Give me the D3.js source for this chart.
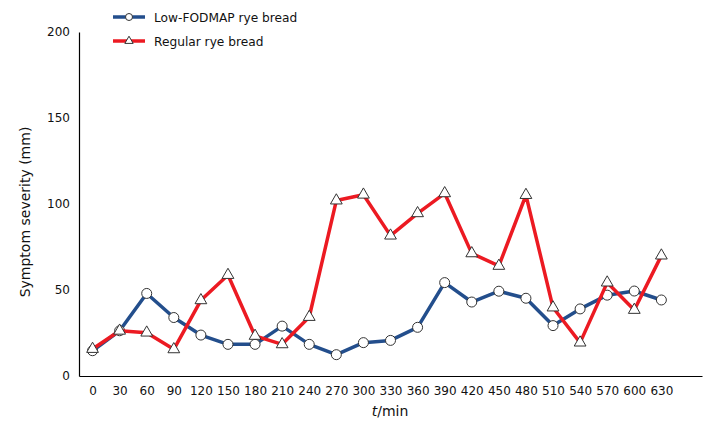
<!DOCTYPE html>
<html>
<head>
<meta charset="utf-8">
<script src="https://cdn.jsdelivr.net/npm/d3@7"></script>
<style>
  html, body { margin: 0; padding: 0; background: #fff; }
  svg { display: block; }
  text { font-family: "DejaVu Sans", Verdana, sans-serif; fill: #111; }
</style>
</head>
<body>
<svg id="chart" width="725" height="433"></svg>
<script>
const times = [0, 30, 60, 90, 120, 150, 180, 210, 240, 270, 300, 330, 360, 390, 420, 450, 480, 510, 540, 570, 600, 630];
const lowFodmap = [14.7, 26.3, 48, 34, 23.8, 18.4, 18.4, 29, 18.4, 12.4, 19.4, 20.7, 28.3, 54.3, 43, 49.3, 45.2, 29.3, 39, 47, 49.4, 44.2];
const regular = [15.7, 26.3, 25.2, 15.5, 44, 58.7, 23.3, 18.4, 34.3, 102, 105.4, 81.6, 94.6, 106.2, 71.3, 64, 105.2, 39.8, 19.4, 54.3, 38.4, 70];
const yTicks = [0, 50, 100, 150, 200];
const seriesNames = ["Low-FODMAP rye bread", "Regular rye bread"];
const seriesColors = ["#234e8c", "#ec1a22"];

const svg = d3.select("#chart");
const x = d3.scaleLinear().domain([-15, 675]).range([79, 702]);
const y = d3.scaleLinear().domain([0, 200]).range([376, 32]);

// axes
const xAxis = svg.append("g").attr("transform", "translate(0,376)")
  .call(d3.axisBottom(x).tickValues(times).tickSize(0).tickPadding(10).tickFormat(d3.format("d")));
xAxis.select(".domain").attr("stroke", "#000").attr("stroke-width", 1.2);
xAxis.selectAll("text").attr("font-size", 12).attr("font-family", "DejaVu Sans").attr("fill", "#111");

const yAxis = svg.append("g").attr("transform", "translate(79,0)")
  .call(d3.axisLeft(y).tickValues(yTicks).tickSize(0).tickPadding(9));
yAxis.select(".domain").attr("stroke", "#000").attr("stroke-width", 1.2);
yAxis.selectAll("text").attr("font-size", 12).attr("font-family", "DejaVu Sans").attr("fill", "#111");

// axis titles
svg.append("text")
  .attr("transform", "translate(30,212) rotate(-90)")
  .attr("text-anchor", "middle")
  .attr("font-size", 14)
  .text("Symptom severity (mm)");

const xt = svg.append("text")
  .attr("x", 390).attr("y", 416)
  .attr("text-anchor", "middle")
  .attr("font-size", 14);
xt.append("tspan").attr("font-style", "italic").text("t");
xt.append("tspan").text("/min");

// lines
const line = d3.line().x((d, i) => x(times[i])).y(d => y(d));
const tri = d3.symbol().type(d3.symbolTriangle).size(60);

function drawSeries(vals, color, marker) {
  svg.append("path").datum(vals)
    .attr("fill", "none").attr("stroke", color)
    .attr("stroke-width", 3.5).attr("stroke-linejoin", "round")
    .attr("d", line);
  const g = svg.append("g");
  if (marker === "circle") {
    g.selectAll("circle").data(vals).join("circle")
      .attr("cx", (d, i) => x(times[i])).attr("cy", d => y(d)).attr("r", 5)
      .attr("fill", "#fff").attr("stroke", "#333").attr("stroke-width", 1);
  } else {
    g.selectAll("path").data(vals).join("path")
      .attr("d", tri)
      .attr("transform", (d, i) => `translate(${x(times[i])},${y(d)})`)
      .attr("fill", "#fff").attr("stroke", "#333").attr("stroke-width", 1);
  }
}
drawSeries(lowFodmap, seriesColors[0], "circle");
drawSeries(regular, seriesColors[1], "triangle");

// legend
const legend = svg.append("g");
seriesNames.forEach((name, i) => {
  const ly = 17 + i * 24;
  legend.append("line").attr("x1", 113).attr("x2", 145).attr("y1", ly).attr("y2", ly)
    .attr("stroke", seriesColors[i]).attr("stroke-width", 3.5);
  if (i === 0) {
    legend.append("circle").attr("cx", 129).attr("cy", ly).attr("r", 3.5)
      .attr("fill", "#fff").attr("stroke", "#333").attr("stroke-width", 1);
  } else {
    legend.append("path").attr("d", d3.symbol().type(d3.symbolTriangle).size(30))
      .attr("transform", `translate(129,${ly})`)
      .attr("fill", "#fff").attr("stroke", "#333").attr("stroke-width", 1);
  }
  legend.append("text").attr("x", 154).attr("y", ly + 5).attr("font-size", 12.2).text(name);
});
</script>
</body>
</html>
